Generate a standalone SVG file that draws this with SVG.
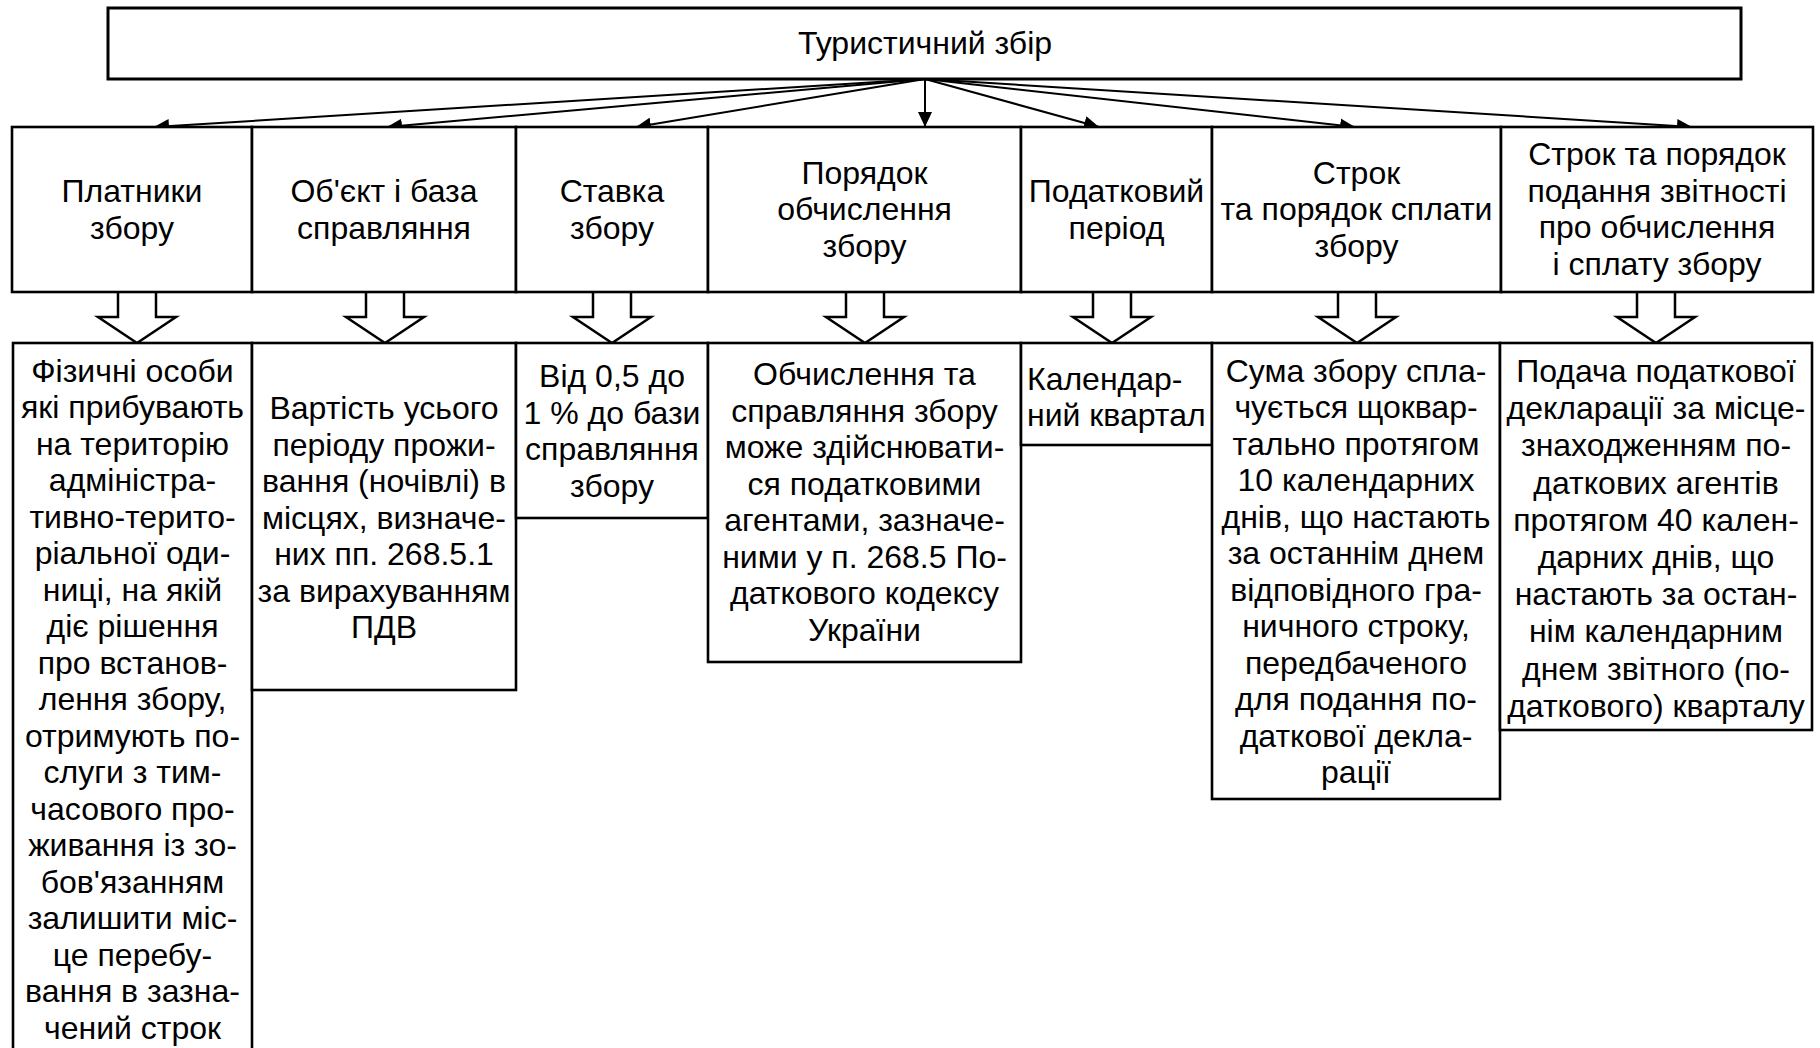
<svg xmlns="http://www.w3.org/2000/svg" width="1820" height="1048" viewBox="0 0 1820 1048">
  <defs>
    <style>
      .box { fill: #fff; stroke: #000; stroke-width: 2.6; }
      .top { fill: #fff; stroke: #000; stroke-width: 3; }
      .t { font-family: "Liberation Sans", Arial, sans-serif; font-size: 32px; fill: #000; text-anchor: middle; }
      .tl { text-anchor: start; }
      .conn { stroke: #000; stroke-width: 2; fill: none; }
      .block { fill: #fff; stroke: #000; stroke-width: 2.5; stroke-linejoin: miter; }
    </style>
    <marker id="ah" viewBox="0 0 15 14" refX="15" refY="7" markerWidth="15" markerHeight="14" markerUnits="userSpaceOnUse" orient="auto">
      <path d="M0,0 L15,7 L0,14 Z" fill="#000"/>
    </marker>
  </defs>

  <rect width="1820" height="1048" fill="#fff"/>

  <!-- root node -->
  <g id="root">
    <rect class="top" x="108" y="8" width="1633" height="71"/>
    <text class="t" x="925" y="54">Туристичний збір</text>
  </g>

  <!-- fan-out connectors from the root -->
  <g id="connectors">
    <line class="conn" x1="925" y1="79" x2="154" y2="127" marker-end="url(#ah)"/>
    <line class="conn" x1="925" y1="79" x2="387" y2="127" marker-end="url(#ah)"/>
    <line class="conn" x1="925" y1="79" x2="636" y2="127" marker-end="url(#ah)"/>
    <line class="conn" x1="925" y1="79" x2="925" y2="127" marker-end="url(#ah)"/>
    <line class="conn" x1="925" y1="79" x2="1099" y2="127" marker-end="url(#ah)"/>
    <line class="conn" x1="925" y1="79" x2="1355" y2="127" marker-end="url(#ah)"/>
    <line class="conn" x1="925" y1="79" x2="1692" y2="127" marker-end="url(#ah)"/>

    <!-- hollow block arrows from headers to details -->
    <path class="block" d="M118,292 V317 H98 L137,343 L176,317 H156 V292"/>
    <path class="block" d="M366,292 V317 H346 L385,343 L424,317 H404 V292"/>
    <path class="block" d="M593,292 V317 H573 L612,343 L651,317 H631 V292"/>
    <path class="block" d="M846,292 V317 H826 L865,343 L904,317 H884 V292"/>
    <path class="block" d="M1093,292 V317 H1073 L1112,343 L1151,317 H1131 V292"/>
    <path class="block" d="M1338,292 V317 H1318 L1357,343 L1396,317 H1376 V292"/>
    <path class="block" d="M1637,292 V317 H1617 L1656,343 L1695,317 H1675 V292"/>
  </g>

  <!-- header row -->
  <g id="h-platnyky">
    <rect class="box" x="12" y="127" width="240" height="165"/>
    <text class="t" x="132" y="202">Платники</text>
    <text class="t" x="132" y="238.5">збору</text>
  </g>
  <g id="h-obiekt">
    <rect class="box" x="252" y="127" width="264" height="165"/>
    <text class="t" x="384" y="202">Об'єкт і база</text>
    <text class="t" x="384" y="238.5">справляння</text>
  </g>
  <g id="h-stavka">
    <rect class="box" x="516" y="127" width="192" height="165"/>
    <text class="t" x="612" y="202">Ставка</text>
    <text class="t" x="612" y="238.5">збору</text>
  </g>
  <g id="h-poriadok">
    <rect class="box" x="708" y="127" width="313" height="165"/>
    <text class="t" x="864.5" y="183.5">Порядок</text>
    <text class="t" x="864.5" y="220">обчислення</text>
    <text class="t" x="864.5" y="256.5">збору</text>
  </g>
  <g id="h-period">
    <rect class="box" x="1021" y="127" width="191" height="165"/>
    <text class="t" x="1116.5" y="202">Податковий</text>
    <text class="t" x="1116.5" y="238.5">період</text>
  </g>
  <g id="h-strok-splaty">
    <rect class="box" x="1212" y="127" width="289" height="165"/>
    <text class="t" x="1356.5" y="183.5">Строк</text>
    <text class="t" x="1356.5" y="220">та порядок сплати</text>
    <text class="t" x="1356.5" y="256.5">збору</text>
  </g>
  <g id="h-zvitnist">
    <rect class="box" x="1501" y="127" width="312" height="165"/>
    <text class="t" x="1657" y="165">Строк та порядок</text>
    <text class="t" x="1657" y="201.5">подання звітності</text>
    <text class="t" x="1657" y="238">про обчислення</text>
    <text class="t" x="1657" y="274.5">і сплату збору</text>
  </g>

  <!-- detail row -->
  <g id="d-platnyky">
    <rect class="box" x="13" y="343" width="239" height="720"/>
    <text class="t" x="132.5" y="381.5">Фізичні особи</text>
    <text class="t" x="132.5" y="418">які прибувають</text>
    <text class="t" x="132.5" y="454.5">на територію</text>
    <text class="t" x="132.5" y="491">адміністра-</text>
    <text class="t" x="132.5" y="527.5">тивно-терито-</text>
    <text class="t" x="132.5" y="564">ріальної оди-</text>
    <text class="t" x="132.5" y="600.5">ниці, на якій</text>
    <text class="t" x="132.5" y="637">діє рішення</text>
    <text class="t" x="132.5" y="673.5">про встанов-</text>
    <text class="t" x="132.5" y="710">лення збору,</text>
    <text class="t" x="132.5" y="746.5">отримують по-</text>
    <text class="t" x="132.5" y="783">слуги з тим-</text>
    <text class="t" x="132.5" y="819.5">часового про-</text>
    <text class="t" x="132.5" y="856">живання із зо-</text>
    <text class="t" x="132.5" y="892.5">бов'язанням</text>
    <text class="t" x="132.5" y="929">залишити міс-</text>
    <text class="t" x="132.5" y="965.5">це перебу-</text>
    <text class="t" x="132.5" y="1002">вання в зазна-</text>
    <text class="t" x="132.5" y="1038.5">чений строк</text>
  </g>
  <g id="d-obiekt">
    <rect class="box" x="252" y="343" width="264" height="347"/>
    <text class="t" x="384" y="419">Вартість усього</text>
    <text class="t" x="384" y="455.5">періоду прожи-</text>
    <text class="t" x="384" y="492">вання (ночівлі) в</text>
    <text class="t" x="384" y="528.5">місцях, визначе-</text>
    <text class="t" x="384" y="565">них пп. 268.5.1</text>
    <text class="t" x="384" y="601.5">за вирахуванням</text>
    <text class="t" x="384" y="638">ПДВ</text>
  </g>
  <g id="d-stavka">
    <rect class="box" x="516" y="343" width="192" height="175"/>
    <text class="t" x="612" y="387">Від 0,5 до</text>
    <text class="t" x="612" y="423.5">1 % до бази</text>
    <text class="t" x="612" y="460">справляння</text>
    <text class="t" x="612" y="496.5">збору</text>
  </g>
  <g id="d-poriadok">
    <rect class="box" x="708" y="343" width="313" height="319"/>
    <text class="t" x="864.5" y="385">Обчислення та</text>
    <text class="t" x="864.5" y="421.5">справляння збору</text>
    <text class="t" x="864.5" y="458">може здійснювати-</text>
    <text class="t" x="864.5" y="494.5">ся податковими</text>
    <text class="t" x="864.5" y="531">агентами, зазначе-</text>
    <text class="t" x="864.5" y="567.5">ними у п. 268.5 По-</text>
    <text class="t" x="864.5" y="604">даткового кодексу</text>
    <text class="t" x="864.5" y="640.5">України</text>
  </g>
  <g id="d-period">
    <rect class="box" x="1021" y="343" width="191" height="102"/>
    <text class="t tl" x="1027" y="390">Календар-</text>
    <text class="t tl" x="1027" y="426">ний квартал</text>
  </g>
  <g id="d-strok-splaty">
    <rect class="box" x="1212" y="343" width="288" height="456"/>
    <text class="t" x="1356" y="381.5">Сума збору спла-</text>
    <text class="t" x="1356" y="418">чується щоквар-</text>
    <text class="t" x="1356" y="454.5">тально протягом</text>
    <text class="t" x="1356" y="491">10 календарних</text>
    <text class="t" x="1356" y="527.5">днів, що настають</text>
    <text class="t" x="1356" y="564">за останнім днем</text>
    <text class="t" x="1356" y="600.5">відповідного гра-</text>
    <text class="t" x="1356" y="637">ничного строку,</text>
    <text class="t" x="1356" y="673.5">передбаченого</text>
    <text class="t" x="1356" y="710">для подання по-</text>
    <text class="t" x="1356" y="746.5">даткової декла-</text>
    <text class="t" x="1356" y="783">рації</text>
  </g>
  <g id="d-zvitnist">
    <rect class="box" x="1500" y="343" width="312" height="387"/>
    <text class="t" x="1656" y="382">Подача податкової</text>
    <text class="t" x="1656" y="419.2">декларації за місце-</text>
    <text class="t" x="1656" y="456.4">знаходженням по-</text>
    <text class="t" x="1656" y="493.6">даткових агентів</text>
    <text class="t" x="1656" y="530.8">протягом 40 кален-</text>
    <text class="t" x="1656" y="568">дарних днів, що</text>
    <text class="t" x="1656" y="605.2">настають за остан-</text>
    <text class="t" x="1656" y="642.4">нім календарним</text>
    <text class="t" x="1656" y="679.6">днем звітного (по-</text>
    <text class="t" x="1656" y="716.8">даткового) кварталу</text>
  </g>
</svg>
